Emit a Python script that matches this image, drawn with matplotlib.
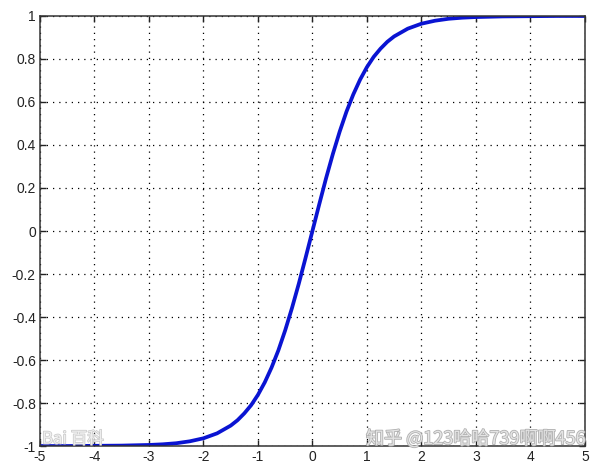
import matplotlib
matplotlib.use("Agg")
import matplotlib.pyplot as plt
import matplotlib.patheffects as pe

# curve values
x_vals = [-5, -4.5, -4, -3.5, -3, -2.75, -2.5, -2.25, -2, -1.75, -1.5, -1.375, -1.25,
          -1.125, -1, -0.875, -0.75, -0.625, -0.5, -0.375, -0.25, -0.125, 0,
          0.125, 0.25, 0.375, 0.5, 0.625, 0.75, 0.875, 1, 1.125, 1.25, 1.375,
          1.5, 1.75, 2, 2.25, 2.5, 2.75, 3, 3.5, 4, 4.5, 5]
y_vals = [-1.0, -1.0, -0.999, -0.998, -0.995, -0.992, -0.987, -0.978, -0.964, -0.941,
          -0.905, -0.880, -0.848, -0.810, -0.762, -0.704, -0.635, -0.555, -0.462,
          -0.358, -0.245, -0.124, 0.0,
          0.124, 0.245, 0.358, 0.462, 0.555, 0.635, 0.704, 0.762, 0.810, 0.848,
          0.880, 0.905, 0.941, 0.964, 0.978, 0.987, 0.992, 0.995, 0.998, 0.999,
          1.0, 1.0]

xticks = [-5, -4, -3, -2, -1, 0, 1, 2, 3, 4, 5]
yticks = [-1, -0.8, -0.6, -0.4, -0.2, 0, 0.2, 0.4, 0.6, 0.8, 1]
ytick_labels = ['-1', '-0.8', '-0.6', '-0.4', '-0.2', '0', '0.2', '0.4', '0.6', '0.8', '1']

plt.rcParams['font.family'] = ['Liberation Sans Narrow', 'Liberation Sans', 'DejaVu Sans']
plt.rcParams['axes.unicode_minus'] = False

fig = plt.figure(figsize=(6, 4.7), dpi=100)
ax = fig.add_axes([0.0667, 0.051, 0.908, 0.915])

ax.plot(x_vals, y_vals, color='#0a14d2', linewidth=2.7, solid_capstyle='butt')

ax.set_xlim(-5, 5)
ax.set_ylim(-1, 1)
ax.set_xticks(xticks)
ax.set_yticks(yticks)
ax.set_yticklabels(ytick_labels)
ax.tick_params(direction='in', length=4, width=1, labelsize=10,
               top=True, right=True, colors='#222222', pad=3)
ax.grid(True, color='black', linestyle=(0, (1, 4)), linewidth=0.9)
for s in ax.spines.values():
    s.set_color('#333333')
    s.set_linewidth(1.1)

# watermarks
fig.text(0.61, 0.055, '知乎 @123哈哈739啊啊456', fontsize=13, color='#e4e4e4',
         family=['Noto Sans CJK SC', 'DejaVu Sans'],
         path_effects=[pe.withStroke(linewidth=1.2, foreground='#b0b0b0')])
fig.text(0.07, 0.056, 'Bai 百科', fontsize=12, color='#eeeeee',
         family=['Noto Sans CJK SC', 'DejaVu Sans'],
         path_effects=[pe.withStroke(linewidth=1, foreground='#c8c8c8')])

fig.savefig('out.png', dpi=100)
